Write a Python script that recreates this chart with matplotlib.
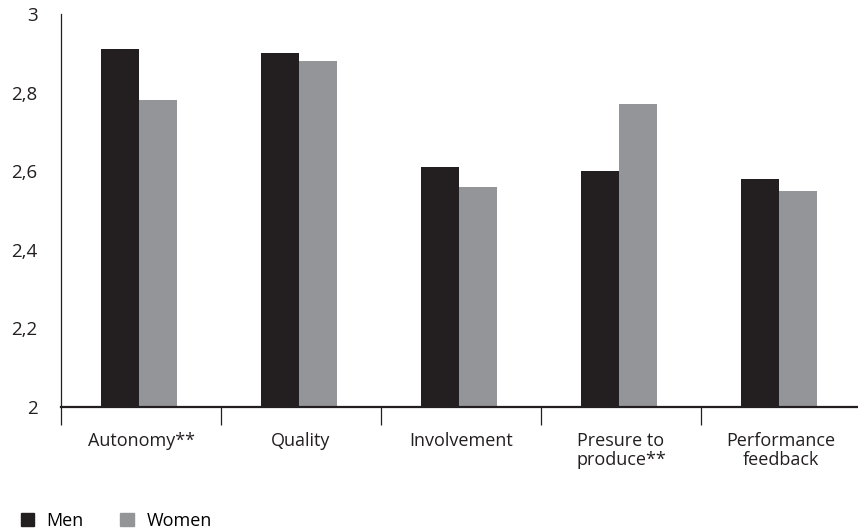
import matplotlib
matplotlib.use("Agg")
import matplotlib.pyplot as plt
import numpy as np
from matplotlib.patches import Patch
from matplotlib.ticker import FixedLocator, FixedFormatter

categories = ["Autonomy**", "Quality", "Involvement", "Presure to\nproduce**", "Performance\nfeedback"]
men = [2.91, 2.90, 2.61, 2.60, 2.58]
women = [2.78, 2.88, 2.56, 2.77, 2.55]
yticks = [2.0, 2.2, 2.4, 2.6, 2.8, 3.0]
ytick_labels = ["2", "2,2", "2,4", "2,6", "2,8", "3"]

men_color = "#231f20"
women_color = "#939598"

plt.rcParams['font.family'] = ['Open Sans', 'DejaVu Sans']

fig = plt.figure(figsize=(8.58, 5.30), dpi=100)
ax = fig.add_axes([61/858, (530-407)/530, 800/858, 393/530])

x = np.arange(len(categories))
w = 0.2375
shift = -0.0125
ax.bar(x - w/2 + shift, [m - 2 for m in men], w, bottom=2, color=men_color, label="Men")
ax.bar(x + w/2 + shift, [v - 2 for v in women], w, bottom=2, color=women_color, label="Women")

ax.set_xlim(-0.5, 4.5)
ax.set_ylim(2, 3)

for s in ["top", "right"]:
    ax.spines[s].set_visible(False)
ax.spines["left"].set_color("#231f20")
ax.spines["left"].set_linewidth(0.9)
ax.spines["bottom"].set_color("#231f20")
ax.spines["bottom"].set_linewidth(1.6)

ax.set_yticks(yticks)
ax.set_yticklabels(ytick_labels, fontsize=13.5, color="#231f20")
ax.tick_params(axis="y", length=0, pad=17)

ax.xaxis.set_major_locator(FixedLocator(np.arange(-0.5, 5.0, 1.0)))
ax.xaxis.set_major_formatter(FixedFormatter([""] * 6))
ax.xaxis.set_minor_locator(FixedLocator(x))
ax.xaxis.set_minor_formatter(FixedFormatter(categories))
ax.tick_params(axis="x", which="major", length=13, width=0.9, color="#231f20", direction="out")
ax.tick_params(axis="x", which="minor", length=0, pad=18, labelsize=13, labelcolor="#231f20")
for lab in ax.xaxis.get_minorticklabels():
    lab.set_linespacing(1.05)

handles = [Patch(color=men_color, label="Men"), Patch(color=women_color, label="Women")]
fig.legend(handles=handles, loc="lower left", bbox_to_anchor=(0.005, -0.03), ncol=2,
           frameon=False, fontsize=13, handlelength=0.75, handleheight=0.75,
           handletextpad=0.7, columnspacing=2.0)

fig.savefig("out.png", dpi=100)
